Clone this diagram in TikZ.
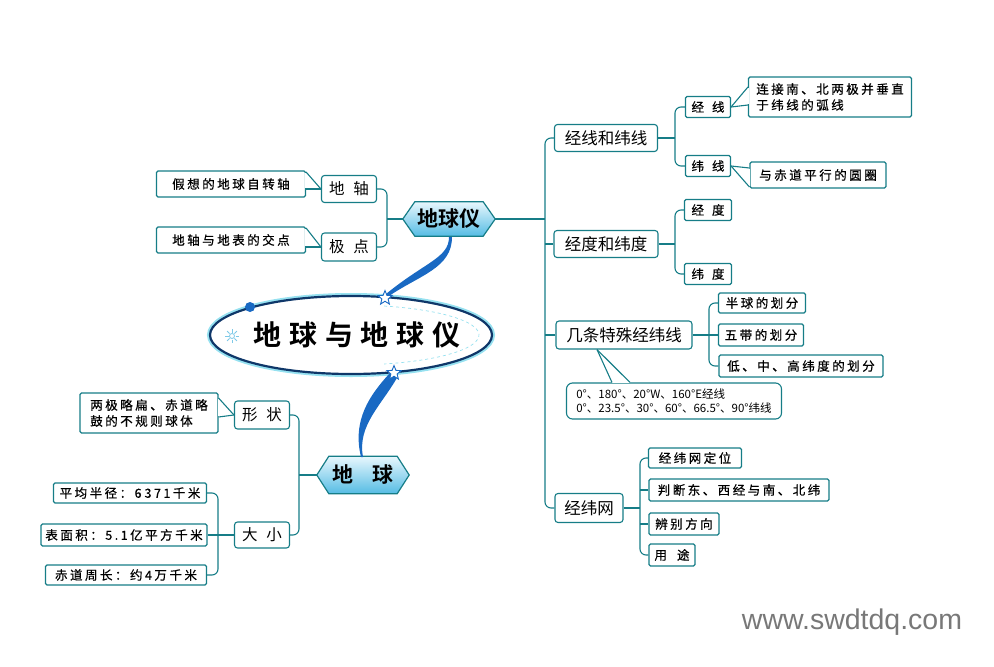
\documentclass[tikz,border=0pt]{standalone}
\usepackage{fontspec}
\setmainfont{Noto Sans CJK SC}[BoldFont={Noto Sans CJK SC Bold}]
\newfontfamily\smf{Noto Sans CJK SC}[LetterSpace=20,FakeBold=0.6]
\newfontfamily\ttlf{Noto Sans CJK SC Bold}[LetterSpace=28]
\newfontfamily\wmf{Liberation Sans}
\usetikzlibrary{shapes.geometric,backgrounds,calc}
\definecolor{tl}{RGB}{22,125,135}
\definecolor{hexbot}{RGB}{85,188,228}
\definecolor{hextop}{RGB}{232,247,253}
\definecolor{navy}{RGB}{15,55,105}
\definecolor{rib}{RGB}{25,105,195}
\definecolor{glow}{RGB}{150,225,240}
\definecolor{wm}{RGB}{120,120,120}
\begin{document}
\begin{tikzpicture}[x=1pt,y=-1pt,
  box/.style={draw=tl, line width=1.1pt, fill=white, inner sep=0pt, rounded corners=3pt},
  bbox/.style={box, font=\fontsize{16.5}{20}\selectfont},
  mbox/.style={box, font=\fontsize{15.5}{19}\selectfont},
  sbox/.style={box, rounded corners=1.5pt, font=\smf\fontsize{12.5}{16}\selectfont},
  hexn/.style={inner sep=0pt, font=\bfseries\fontsize{21}{24}\selectfont},
  hexpath/.style={draw=tl, line width=1.2pt, top color=hextop, bottom color=hexbot},
  conn/.style={draw=tl, line width=1.1pt, rounded corners=6pt},
  ptr/.style={draw=tl, line width=1.1pt},
  starn/.style={star, star points=5, star point ratio=2.3, minimum size=15pt, inner sep=0pt, draw=rib, fill=white, line width=0.9pt}
]
\useasboundingbox (0,0) rectangle (994,667);

% ---------- title ellipse ----------
\node[ellipse, minimum width=282pt, minimum height=78pt, draw=navy, line width=2.2pt, fill=white,
      preaction={draw=glow, line width=6pt}] (ttl) at (351,335) {};
\node[font=\ttlf\fontsize{28}{30}\selectfont] (ttltext) at (357,335) {地球与地球仪};
\draw[glow, dashed, line width=0.7pt] ($(ttl.center)+({128*cos(-75)},{30*sin(-75)})$)
   arc[start angle=-75, end angle=75, x radius=128, y radius=30];
\fill[rib] (250,307) circle[radius=5];
\coordinate (sun) at (232,336);
\draw[glow!80!rib, line width=0.8pt] (sun) circle[radius=2.5];
\foreach \a in {0,45,...,315} \draw[glow!80!rib, line width=0.8pt] (sun) ++(\a:3.5) -- ++(\a:3.5);

% ---------- hexagons ----------
\node[hexn, minimum width=68pt, minimum height=34pt] (gy) at (449,219) {地球仪};
\node[hexn, minimum width=68pt, minimum height=37pt] (dq) at (363,475) {地\hspace{20pt}球};
\coordinate (gyL) at ($(gy.west)+(-12,0)$);
\coordinate (gyR) at ($(gy.east)+(12,0)$);
\coordinate (dqL) at ($(dq.west)+(-12,0)$);
\coordinate (dqR) at ($(dq.east)+(12,0)$);
\begin{scope}[on background layer]
\path[hexpath] (gyL) -- (gy.north west) -- (gy.north east) -- (gyR) -- (gy.south east) -- (gy.south west) -- cycle;
\path[hexpath] (dqL) -- (dq.north west) -- (dq.north east) -- (dqR) -- (dq.south east) -- (dq.south west) -- cycle;
\end{scope}

% ---------- ribbons ----------
\fill[rib] (449,237) .. controls (449,258) and (425,262) .. (386,294)
   -- (389,296) .. controls (420,275) and (452,268) .. (452,237) -- cycle;
\fill[rib] (389,374) .. controls (370,395) and (352,420) .. (361,457)
   -- (363,457) .. controls (357,425) and (382,405) .. (398,376) -- cycle;
\node[starn] (s1) at (385,298) {};
\node[starn] (s2) at (394,373) {};

% ---------- upper left ----------
\node[mbox, minimum width=55pt, minimum height=27pt] (dz) at (349,189) {地\hspace{9pt}轴};
\node[mbox, minimum width=55pt, minimum height=28pt] (jdn) at (349,247) {极\hspace{9pt}点};
\node[sbox, minimum width=149pt, minimum height=26pt] (dzd) at (231,184) {假想的地球自转轴};
\node[sbox, minimum width=149pt, minimum height=26pt] (jdd) at (231,240) {地轴与地表的交点};
\coordinate (lb) at (387,219);
\draw[conn] (dz.east) -| (lb) |- (jdn.east);
\draw[conn] (lb) -- (gyL);

% ---------- lower left ----------
\node[mbox, minimum width=55pt, minimum height=28pt] (xz) at (262,415) {形\hspace{9pt}状};
\node[mbox, minimum width=55pt, minimum height=26pt] (dx) at (262,535) {大\hspace{9pt}小};
\node[sbox, minimum width=138pt, minimum height=40pt, align=left] (xzd) at (149,413) {两极略扁、赤道略\\鼓的不规则球体};
\node[sbox, minimum width=153pt, minimum height=20pt] (bj) at (130,493) {平均半径：6\hspace{3pt}371千米};
\node[sbox, minimum width=166pt, minimum height=22pt] (bmj) at (124,535) {表面积：5.1亿平方千米};
\node[sbox, minimum width=161pt, minimum height=20pt] (cd) at (126,575) {赤道周长：约4万千米};
\coordinate (b5) at (299,475);
\draw[conn] (xz.east) -| (b5) |- (dx.east);
\draw[conn] (b5) -- (dqL);
\coordinate (b6) at (218,535);
\draw[conn] (bj.east) -| (b6) |- (cd.east);
\draw[conn] (bmj.east) -- (dx.west);

% ---------- right side ----------
\node[bbox, minimum width=103pt, minimum height=27pt] (jxwx) at (606,138) {经线和纬线};
\node[sbox, minimum width=45pt, minimum height=21pt] (jx) at (708,107) {经\hspace{8pt}线};
\node[sbox, minimum width=45pt, minimum height=21pt] (wx) at (708,166) {纬\hspace{8pt}线};
\node[sbox, minimum width=163pt, minimum height=40pt, align=left] (jxd) at (830,97) {连接南、北两极并垂直\\于纬线的弧线};
\node[sbox, minimum width=136pt, minimum height=26pt] (wxd) at (818,175) {与赤道平行的圆圈};

\node[bbox, minimum width=104pt, minimum height=27pt] (jdwd) at (606,244) {经度和纬度};
\node[sbox, minimum width=47pt, minimum height=21pt] (jdg) at (708,210) {经\hspace{8pt}度};
\node[sbox, minimum width=47pt, minimum height=21pt] (wdg) at (708,274) {纬\hspace{8pt}度};

\node[bbox, minimum width=136pt, minimum height=28pt] (tsj) at (624,335) {几条特殊经纬线};
\node[sbox, minimum width=87pt, minimum height=20pt] (bq) at (762,303) {半球的划分};
\node[sbox, minimum width=85pt, minimum height=22pt] (wdai) at (761,335) {五带的划分};
\node[sbox, minimum width=164pt, minimum height=22pt] (dzg) at (801,366) {低、中、高纬度的划分};
\node[box, rounded corners=6pt, minimum width=215pt, minimum height=36pt, align=left,
      font=\fontsize{11.5}{13.5}\selectfont] (cl) at (674,401)
      {0°、180°、20°W、160°E经线\\0°、23.5°、30°、60°、66.5°、90°纬线};

\node[bbox, minimum width=68pt, minimum height=29pt] (jww) at (589,508) {经纬网};
\node[sbox, minimum width=93pt, minimum height=20pt] (dw) at (695,458) {经纬网定位};
\node[sbox, minimum width=180pt, minimum height=22pt] (pd) at (739,490) {判断东、西经与南、北纬};
\node[sbox, minimum width=70pt, minimum height=22pt] (bb) at (684,524) {辨别方向};
\node[sbox, minimum width=46pt, minimum height=22pt] (yt) at (672,555) {用\hspace{10pt}途};

% trunk
\coordinate (tr) at (545,0);
\draw[conn] (gyR) -- (gyR -| tr);
\draw[conn] (jxwx.west) -- (jxwx.west -| tr) -- (jww.west -| tr) -- (jww.west);
\draw[conn] (jdwd.west) -- (jdwd.west -| tr);
\draw[conn] (tsj.west) -- (tsj.west -| tr);
% brackets
\coordinate (b1) at (675,138);
\draw[conn] (jx.west) -| (b1) |- (wx.west);
\draw[conn] (jxwx.east) -- (b1);
\coordinate (b2) at (675,244);
\draw[conn] (jdg.west) -| (b2) |- (wdg.west);
\draw[conn] (jdwd.east) -- (b2);
\coordinate (b3) at (709,335);
\draw[conn] (bq.west) -| (b3) |- (dzg.west);
\draw[conn] (tsj.east) -- (wdai.west);
\coordinate (b4) at (640,508);
\draw[conn] (dw.west) -| (b4) |- (yt.west);
\draw[conn] (jww.east) -- (b4);
\draw[conn] (pd.west) -- (pd.west -| b4);
\draw[conn] (bb.west) -- (bb.west -| b4);

% ---------- callout pointers ----------
\fill[white] ($(dzd.east)+(-1,-11.4)$) rectangle ($(dzd.east)+(1,4.4)$);
\draw[ptr] ($(dzd.east)+(0,-12)$) -- (dz.west);
\draw[ptr] ($(dzd.east)+(0,5)$) -- (dz.west);
\fill[white] ($(jdd.east)+(-1,-11.4)$) rectangle ($(jdd.east)+(1,6.4)$);
\draw[ptr] ($(jdd.east)+(0,-12)$) -- (jdn.west);
\draw[ptr] ($(jdd.east)+(0,7)$) -- (jdn.west);
\fill[white] ($(xzd.east)+(-1,-14.4)$) rectangle ($(xzd.east)+(1,3.4)$);
\draw[ptr] ($(xzd.east)+(0,-15)$) -- (xz.west);
\draw[ptr] ($(xzd.east)+(0,4)$) -- (xz.west);
\fill[white] ($(jxd.west)+(-1,-9.4)$) rectangle ($(jxd.west)+(1,7.4)$);
\draw[ptr] ($(jxd.west)+(0,-10)$) -- (jx.east);
\draw[ptr] ($(jxd.west)+(0,8)$) -- (jx.east);
\fill[white] ($(wxd.west)+(-1,-6.4)$) rectangle ($(wxd.west)+(1,11.4)$);
\draw[ptr] ($(wxd.west)+(0,-7)$) -- (wx.east);
\draw[ptr] ($(wxd.west)+(0,12)$) -- (wx.east);
\coordinate (tsjb) at ($(tsj.south)+(-27,0)$);
\fill[white] ($(cl.north)+(-62.4,-1)$) rectangle ($(cl.north)+(-43.6,1)$);
\draw[ptr] ($(cl.north)+(-62,0)$) -- (tsjb);
\draw[ptr] ($(cl.north)+(-44,0)$) -- (tsjb);

% ---------- watermark ----------
\node[font=\wmf\fontsize{28.5}{30}\selectfont, text=wm] (wmk) at (852,622) {www.swdtdq.com};
\end{tikzpicture}
\end{document}
